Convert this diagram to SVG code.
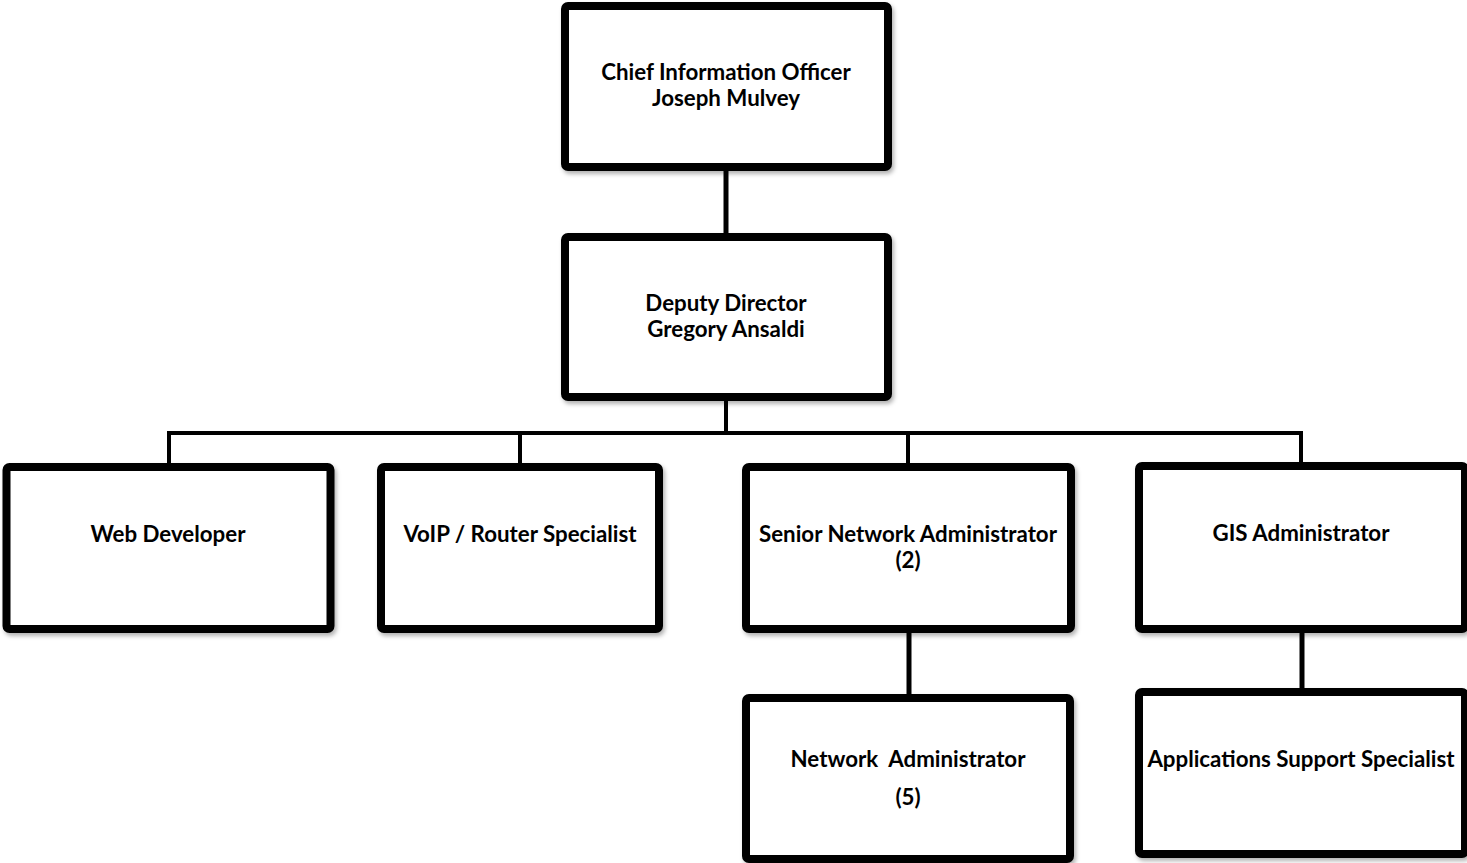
<svg xmlns="http://www.w3.org/2000/svg" width="1467" height="863" viewBox="0 0 1467 863">
<defs>
<style>
.box{fill:#fff;stroke:#000;stroke-width:8;filter:url(#sh)}
.t{font-family:Lato,"Open Sans",sans-serif;font-weight:bold;font-size:22.3px;fill:#000;text-anchor:middle}
.c{stroke:#000;fill:none}
</style>
<filter id="sh" x="-5%" y="-5%" width="115%" height="115%">
<feDropShadow dx="2" dy="3" stdDeviation="2" flood-color="#000" flood-opacity="0.3"/>
</filter>
</defs>
<rect width="1467" height="863" fill="#fff"/>
<g id="connectors">
<line class="c" x1="726" y1="168" x2="726" y2="236" stroke-width="5"/>
<line class="c" x1="726" y1="398" x2="726" y2="433" stroke-width="4"/>
<line class="c" x1="167" y1="433" x2="1303" y2="433" stroke-width="4"/>
<line class="c" x1="169" y1="433" x2="169" y2="466" stroke-width="4"/>
<line class="c" x1="520" y1="433" x2="520" y2="466" stroke-width="4"/>
<line class="c" x1="908" y1="433" x2="908" y2="466" stroke-width="4"/>
<line class="c" x1="1301" y1="433" x2="1301" y2="466" stroke-width="4"/>
<line class="c" x1="909" y1="630" x2="909" y2="697" stroke-width="5"/>
<line class="c" x1="1302" y1="630" x2="1302" y2="691" stroke-width="5"/>
</g>
<g id="cio">
<rect class="box" x="565" y="6" width="323" height="161" rx="3"/>
<text class="t" x="726" y="80">Chief Information Officer</text>
<text class="t" x="726" y="106">Joseph Mulvey</text>
</g>
<g id="deputy">
<rect class="box" x="565" y="237" width="323" height="160" rx="3"/>
<text class="t" x="726" y="311">Deputy Director</text>
<text class="t" x="726" y="337">Gregory Ansaldi</text>
</g>
<g id="web">
<rect class="box" x="6.5" y="467" width="324" height="162" rx="3"/>
<text class="t" x="168" y="542">Web Developer</text>
</g>
<g id="voip">
<rect class="box" x="381" y="467" width="278" height="162" rx="3"/>
<text class="t" x="520" y="542">VoIP / Router Specialist</text>
</g>
<g id="senior">
<rect class="box" x="746" y="467" width="325" height="162" rx="3"/>
<text class="t" x="908" y="542">Senior Network Administrator</text>
<text class="t" x="908" y="568">(2)</text>
</g>
<g id="gis">
<rect class="box" x="1139" y="466" width="326" height="163" rx="3"/>
<text class="t" x="1301" y="541">GIS Administrator</text>
</g>
<g id="network">
<rect class="box" x="746" y="698" width="324" height="161" rx="3"/>
<text class="t" x="908" y="767" xml:space="preserve">Network  Administrator</text>
<text class="t" x="908" y="805">(5)</text>
</g>
<g id="apps">
<rect class="box" x="1139" y="692" width="326" height="162" rx="3"/>
<text class="t" x="1301" y="767">Applications Support Specialist</text>
</g>
</svg>
